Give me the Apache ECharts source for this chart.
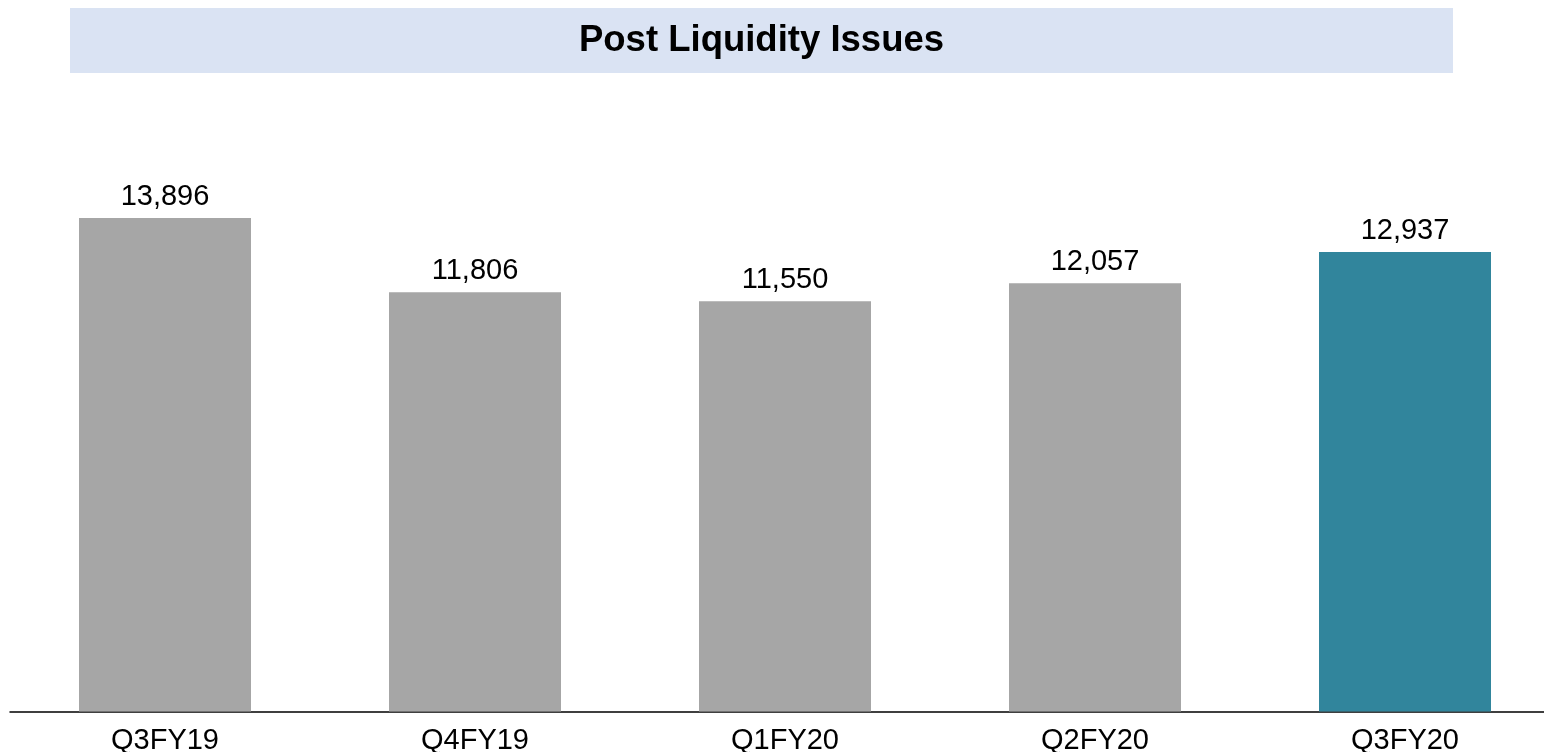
<!DOCTYPE html>
<html lang="en">
<head>
    <meta charset="UTF-8">
    <title>Post Liquidity Issues</title>
    <style>
        html, body { margin: 0; padding: 0; background: #fff; overflow: hidden; }
    </style>
</head>
<body>
<div id="container" style="width: 1544px; height: 752px"></div>
<script src="https://cdn.jsdelivr.net/npm/echarts@6/dist/echarts.min.js"></script>
<script type="text/javascript">
    var categories = ['Q3FY19', 'Q4FY19', 'Q1FY20', 'Q2FY20', 'Q3FY20'];
    var values = [13896, 11806, 11550, 12057, 12937];
    var barColors = ['#a6a6a6', '#a6a6a6', '#a6a6a6', '#a6a6a6', '#31859c'];

    var chart = echarts.init(document.getElementById('container'));

    var option = {
        animation: false,
        textStyle: { fontFamily: 'Liberation Sans, Arial, sans-serif' },
        graphic: [
            {
                type: 'rect',
                shape: { x: 70, y: 8, width: 1383, height: 65 },
                style: { fill: '#dae3f3' },
                z: 0
            },
            {
                type: 'text',
                x: 761.5,
                y: 41,
                style: {
                    text: 'Post Liquidity Issues',
                    fill: '#000',
                    font: 'bold 36.5px "Liberation Sans", Arial, sans-serif',
                    align: 'center',
                    verticalAlign: 'middle'
                },
                z: 1
            }
        ],
        grid: {
            left: 10,
            width: 1550,
            top: 143.3,
            bottom: 40.5,
            containLabel: false,
            outerBoundsMode: 'none'
        },
        xAxis: {
            type: 'category',
            data: categories,
            axisLine: { show: true, lineStyle: { color: '#000', width: 1.5 } },
            axisTick: { show: false },
            axisLabel: {
                color: '#000',
                fontSize: 29,
                margin: 15,
                fontFamily: 'Liberation Sans, Arial, sans-serif'
            }
        },
        yAxis: {
            type: 'value',
            min: 0,
            max: 16000,
            show: false,
            splitLine: { show: false }
        },
        series: [
            {
                type: 'bar',
                barWidth: 172,
                data: values.map(function (v, i) {
                    return { value: v, itemStyle: { color: barColors[i] } };
                }),
                label: {
                    show: true,
                    position: 'top',
                    distance: 7,
                    color: '#000',
                    fontSize: 29,
                    fontFamily: 'Liberation Sans, Arial, sans-serif',
                    formatter: function (p) {
                        return p.value.toLocaleString('en-US');
                    }
                }
            }
        ]
    };

    chart.setOption(option);
</script>
</body>
</html>
